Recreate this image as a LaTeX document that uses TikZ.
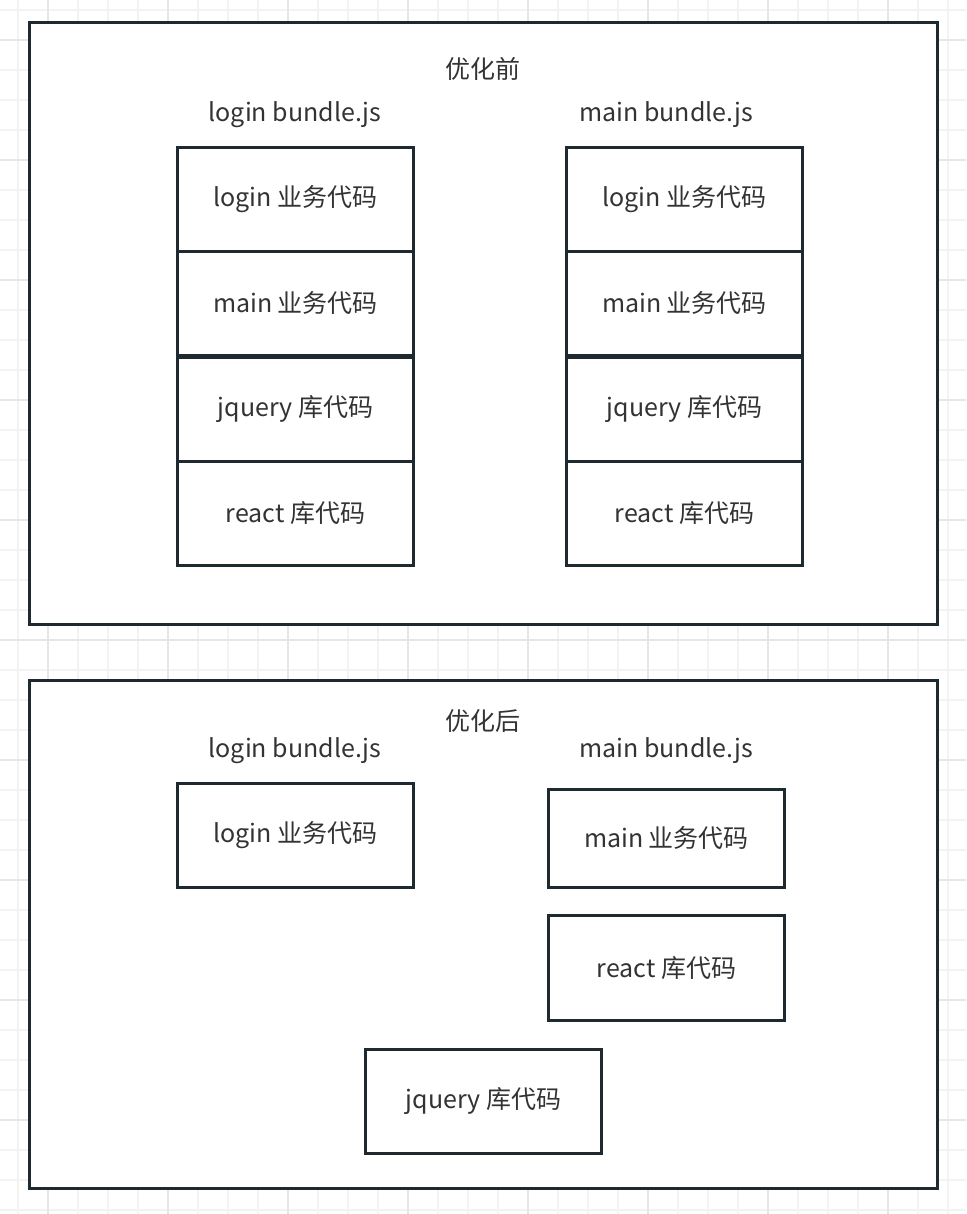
\documentclass[tikz,border=0pt]{standalone}
\usepackage{fontspec}
\setmainfont{Noto Sans CJK SC}
\definecolor{ink}{HTML}{1F2930}
\definecolor{txt}{HTML}{333333}
\definecolor{gridminor}{HTML}{F3F3F3}
\definecolor{gridmajor}{HTML}{E6E6E6}
\newcommand{\lowered}[1]{\raisebox{-2pt}{#1}}
\tikzset{
  outerbox/.style={draw=ink, line width=3pt, fill=white},
  cell/.style={draw=ink, line width=3pt, fill=white, minimum width=236pt, minimum height=104pt, inner sep=0pt, anchor=north west, font=\fontsize{25}{28}\selectfont, text=txt},
  label/.style={font=\fontsize{25}{28}\selectfont, text=txt, inner sep=0pt},
}
\begin{document}
\begin{tikzpicture}[x=1pt,y=-1pt]
\useasboundingbox (0,0) rectangle (966,1214);
\fill[white] (0,0) rectangle (966,1214);
% grid
\foreach \x in {18,48,...,966} \draw[gridminor, line width=1.5pt] (\x,0) -- (\x,1214);
\foreach \y in {10,40,...,1214} \draw[gridminor, line width=1.5pt] (0,\y) -- (966,\y);
\foreach \x in {48,168,...,966} \draw[gridmajor, line width=1.5pt] (\x,0) -- (\x,1214);
\foreach \y in {40,160,...,1214} \draw[gridmajor, line width=1.5pt] (0,\y) -- (966,\y);
% top panel
\draw[outerbox] (29,23) rectangle (937,624);
\node[label] (t1) at (483,69) {优化前};
\node[label] (lb1) at (295,115) {login bundle.js};
\node[label] (mb1) at (666,115) {main bundle.js};
\node[cell] (l1) at (176,146) {\lowered{login 业务代码}};
\node[cell] (l2) at (176,250) {\lowered{main 业务代码}};
\node[cell] (l3) at (176,356) {\lowered{jquery 库代码}};
\node[cell] (l4) at (176,460) {\lowered{react 库代码}};
\node[cell] (r1) at (565,146) {\lowered{login 业务代码}};
\node[cell] (r2) at (565,250) {\lowered{main 业务代码}};
\node[cell] (r3) at (565,356) {\lowered{jquery 库代码}};
\node[cell] (r4) at (565,460) {\lowered{react 库代码}};
% bottom panel
\draw[outerbox] (29,680) rectangle (937,1188);
\node[label] (t2) at (483,721) {优化后};
\node[label] (lb2) at (295,751) {login bundle.js};
\node[label] (mb2) at (666,751) {main bundle.js};
\node[cell] (bl) at (176,782) {\lowered{login 业务代码}};
\node[cell, minimum height=98pt] (bm) at (547,788) {\lowered{main 业务代码}};
\node[cell, minimum height=105pt] (br) at (547,914) {\lowered{react 库代码}};
\node[cell] (bj) at (364,1048) {\lowered{jquery 库代码}};
\end{tikzpicture}
\end{document}
